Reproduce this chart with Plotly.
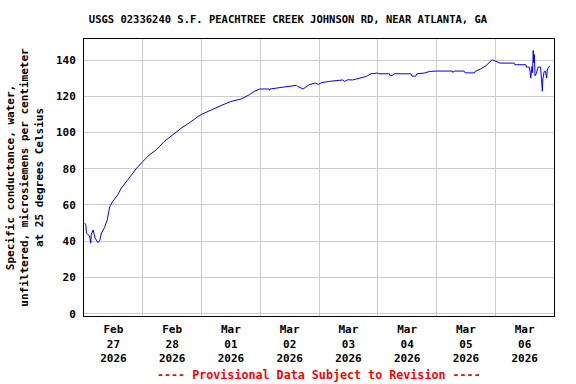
import plotly.graph_objects as go

times = [
    "2026-02-27 00:15", "2026-02-27 00:45", "2026-02-27 01:00", "2026-02-27 01:45",
    "2026-02-27 02:15", "2026-02-27 02:45", "2026-02-27 03:00", "2026-02-27 03:45",
    "2026-02-27 04:30", "2026-02-27 05:45", "2026-02-27 06:30", "2026-02-27 07:00",
    "2026-02-27 08:30", "2026-02-27 09:30", "2026-02-27 10:30", "2026-02-27 11:45",
    "2026-02-27 13:45", "2026-02-27 15:15", "2026-02-27 17:15", "2026-02-27 19:15",
    "2026-02-27 21:30", "2026-02-28 00:00", "2026-02-28 02:45", "2026-02-28 05:30",
    "2026-02-28 08:45", "2026-02-28 12:15", "2026-02-28 15:45", "2026-02-28 19:45",
    "2026-02-28 22:30", "2026-03-01 00:30", "2026-03-01 04:30", "2026-03-01 08:45",
    "2026-03-01 12:00", "2026-03-01 16:15", "2026-03-01 19:30", "2026-03-01 21:30",
    "2026-03-01 23:45", "2026-03-02 03:30", "2026-03-02 03:45", "2026-03-02 04:00",
    "2026-03-02 09:45", "2026-03-02 14:45", "2026-03-02 15:15", "2026-03-02 17:30",
    "2026-03-02 20:00", "2026-03-02 22:30", "2026-03-02 23:45", "2026-03-03 01:00",
    "2026-03-03 04:15", "2026-03-03 09:45", "2026-03-03 10:30", "2026-03-03 11:45",
    "2026-03-03 13:45", "2026-03-03 17:15", "2026-03-03 19:15", "2026-03-03 21:15",
    "2026-03-04 00:00", "2026-03-04 00:30", "2026-03-04 04:45", "2026-03-04 05:00",
    "2026-03-04 06:00", "2026-03-04 06:45", "2026-03-04 13:30", "2026-03-04 14:00",
    "2026-03-04 15:30", "2026-03-04 16:00", "2026-03-04 19:00", "2026-03-04 21:15",
    "2026-03-05 00:00", "2026-03-05 06:30", "2026-03-05 06:45", "2026-03-05 07:15",
    "2026-03-05 11:15", "2026-03-05 11:45", "2026-03-05 15:30", "2026-03-05 15:45",
    "2026-03-05 18:00", "2026-03-05 20:15", "2026-03-05 21:30", "2026-03-05 22:45",
    "2026-03-06 00:00", "2026-03-06 02:00", "2026-03-06 07:45", "2026-03-06 08:00",
    "2026-03-06 12:30", "2026-03-06 12:45", "2026-03-06 14:00", "2026-03-06 14:30",
    "2026-03-06 15:00", "2026-03-06 15:15", "2026-03-06 15:30", "2026-03-06 15:45",
    "2026-03-06 16:00", "2026-03-06 16:15", "2026-03-06 16:45", "2026-03-06 17:30",
    "2026-03-06 18:30", "2026-03-06 19:00", "2026-03-06 19:15", "2026-03-06 19:30",
    "2026-03-06 20:00", "2026-03-06 20:30", "2026-03-06 21:00", "2026-03-06 21:15",
    "2026-03-06 21:45", "2026-03-06 22:15",
]
conductance = [
    50.0, 49.0, 44.4, 43.5, 43.0, 38.9, 44.0, 46.2, 41.8, 39.2, 40.5, 44.0,
    48.0, 51.8, 59.1, 61.9, 65.6, 69.3, 72.9, 76.6, 80.3, 84.0, 87.7, 90.4,
    95.0, 98.7, 102.4, 106.0, 108.8, 110.3, 112.9, 115.3, 117.1, 118.5, 120.8, 122.6,
    124.0, 124.0, 123.3, 124.0, 125.1, 126.0, 125.5, 124.0, 126.4, 127.3, 126.5, 127.5,
    128.2, 129.0, 128.2, 129.1, 129.0, 130.0, 130.9, 132.4, 132.8, 132.4, 132.4, 131.3,
    131.6, 132.4, 132.4, 131.1, 131.1, 132.4, 132.8, 133.7, 133.9, 133.9, 133.1, 133.9,
    133.9, 132.9, 132.9, 133.7, 135.0, 136.9, 138.3, 140.2, 139.4, 138.3, 138.3, 137.4,
    137.4, 136.1, 136.1, 130.0, 136.5, 133.0, 145.3, 138.5, 143.0, 131.3, 132.5, 136.1,
    136.1, 123.6, 122.8, 130.0, 133.8, 133.8, 130.0, 134.5, 136.1, 136.5,
]

label_days = ["2026-02-27 12:00", "2026-02-28 12:00", "2026-03-01 12:00", "2026-03-02 12:00",
              "2026-03-03 12:00", "2026-03-04 12:00", "2026-03-05 12:00", "2026-03-06 12:00"]
label_text = ["Feb<br>27<br>2026", "Feb<br>28<br>2026", "Mar<br>01<br>2026", "Mar<br>02<br>2026",
              "Mar<br>03<br>2026", "Mar<br>04<br>2026", "Mar<br>05<br>2026", "Mar<br>06<br>2026"]
grid_days = ["2026-02-28", "2026-03-01", "2026-03-02", "2026-03-03",
             "2026-03-04", "2026-03-05", "2026-03-06"]
y_ticks = [0, 20, 40, 60, 80, 100, 120, 140]

FONT = "DejaVu Sans Mono"

fig = go.Figure()
fig.add_trace(go.Scatter(x=times, y=conductance, mode="lines",
                         line=dict(color="#0000ff", width=1), showlegend=False))

fig.update_layout(
    width=576, height=384,
    margin=dict(l=84, r=22, t=39, b=68, autoexpand=False),
    paper_bgcolor="white", plot_bgcolor="white",
    font=dict(family=FONT, size=11, color="black"),
    title=dict(text="<b>USGS 02336240 S.F. PEACHTREE CREEK JOHNSON RD, NEAR ATLANTA, GA</b>",
               x=0.5, xanchor="center", y=1 - 19 / 384, yanchor="middle",
               font=dict(family=FONT, size=10.5, color="black")),
)
fig.update_xaxes(
    range=["2026-02-27 00:00", "2026-03-07 00:00"], automargin=False,
    tickmode="array", tickvals=label_days,
    ticktext=["<b>" + t.replace("<br>", "</b><br><b>") + "</b>" for t in label_text],
    ticks="", showgrid=False, zeroline=False, ticklabelstandoff=3,
    showline=True, linecolor="black", linewidth=1, mirror=True,
    tickfont=dict(family=FONT, size=11, color="black"),
    minor=dict(tickmode="array", tickvals=grid_days, showgrid=True,
               gridcolor="#cccccc", gridwidth=1, ticks=""),
)
fig.update_yaxes(
    range=[-1.27, 151.6], automargin=False,
    tickmode="array", tickvals=y_ticks, ticktext=["<b>%d</b>" % v for v in y_ticks],
    ticks="", showgrid=True, gridcolor="#cccccc", gridwidth=1, zeroline=False,
    ticklabelstandoff=5,
    showline=True, linecolor="black", linewidth=1, mirror=True,
    tickfont=dict(family=FONT, size=11, color="black"),
    title=dict(text="<b>Specific conductance, water,<br>unfiltered, microsiemens per centimeter<br>at 25 degrees Celsius</b>",
               font=dict(family=FONT, size=11, color="black"), standoff=10),
)
fig.add_annotation(text="<b>---- Provisional Data Subject to Revision ----</b>",
                   xref="paper", yref="paper", x=0.5, y=-(375 - 316) / 277,
                   xanchor="center", yanchor="middle", showarrow=False,
                   font=dict(family=FONT, size=11.7, color="red"))

fig.write_html("out.html", config={"displayModeBar": False},
               post_script="document.body.style.margin='0';document.body.style.padding='0';")
